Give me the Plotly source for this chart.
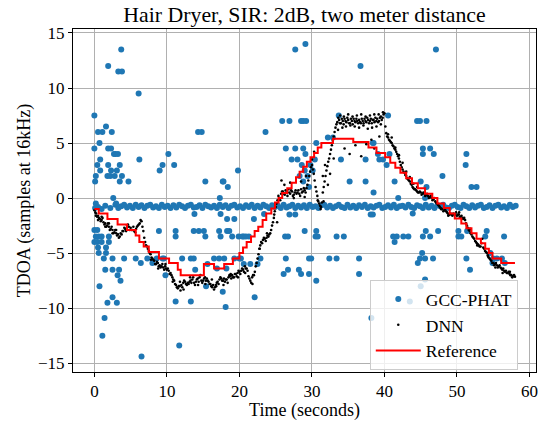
import plotly.graph_objects as go

# ---------------- data ----------------
# Reference TDOA: step changes (time, value)
ref_t = [0.0, 0.6, 1.8, 3.2, 4.5, 5.7, 6.2, 6.8, 7.5, 8.9, 10.3, 11.5, 11.9, 15.1, 16.5, 17.9,
         19.1, 20.0, 20.5, 21.0, 21.6, 22.1, 22.6, 23.2, 23.7, 24.4, 24.9, 25.4, 25.9, 26.6, 27.2,
         27.8, 28.3, 28.8, 29.3, 29.8, 30.3, 30.8, 31.3, 32.9, 35.7, 37.8, 38.9, 40.1, 40.8, 41.5,
         42.2, 43.0, 43.8, 44.6, 45.6, 46.6, 47.3, 48.2, 49.0, 49.7, 50.6, 51.3, 52.0, 52.7, 53.3,
         53.9, 54.4, 54.9, 56.1, 58.0]
ref_v = [-1.0, -1.4, -1.9, -2.4, -2.9, -3.4, -4.0, -4.4, -4.9, -5.5, -5.9, -6.5, -7.0, -6.0, -6.4, -6.0,
         -5.5, -5.0, -4.5, -4.0, -3.5, -3.0, -2.6, -2.0, -1.4, -0.95, -0.4, 0.0, 0.45, 0.9, 1.4,
         1.9, 2.4, 2.85, 3.3, 3.7, 4.1, 4.6, 5.0, 5.4, 5.1, 4.6, 4.1, 3.7, 3.2, 2.75,
         2.3, 1.8, 1.35, 0.9, 0.4, 0.0, -0.5, -0.9, -1.4, -1.85, -2.3, -2.75, -3.2, -3.7, -4.1,
         -4.6, -5.0, -5.5, -5.9, -5.9]

# DNN estimate, one value every 0.25 s (frame hop), rows = one second each
dnn_hop = 0.25
dnn_rows = [
    [-1.1, -1.4, -1.6, -1.9], [-2.0, -2.2, -2.3, -2.5], [-2.6, -2.8, -2.9, -3.1], [-3.2, -3.3, -3.5, -3.3],
    [-3.0, -2.8, -2.5, -2.6], [-2.7, -2.9, -3.0, -2.8], [-2.5, -2.3, -2.1, -3.0], [-4.0, -4.4, -4.8, -5.1],
    [-5.5, -5.7, -6.0, -5.9], [-6.1, -6.2, -6.3, -6.2], [-6.5, -6.6, -6.8, -7.2], [-7.5, -7.9, -8.2, -8.0],
    [-7.9, -7.7, -7.6, -7.9], [-7.8, -7.5, -7.4, -7.7], [-7.6, -7.3, -7.2, -7.5], [-7.5, -7.2, -7.3, -7.6],
    [-7.8, -8.1, -8.3, -7.9], [-7.6, -7.4, -7.3, -7.5], [-7.6, -7.4, -7.2, -7.1], [-7.0, -7.2, -6.9, -6.8],
    [-6.7, -6.6, -6.5, -6.2], [-6.4, -7.1, -7.5, -7.2], [-7.0, -6.2, -5.5, -4.6], [-4.0, -3.8, -3.7, -3.6],
    [-3.5, -3.2, -2.5, -1.8], [-0.8, -0.2, 0.0, 0.4], [0.6, 0.3, 0.5, 0.8], [0.4, 0.6, 0.3, 0.7],
    [0.5, 0.4, 0.8, 0.6], [0.7, 0.9, 1.6, 2.4], [3.0, 2.2, 1.0, 0.2], [-0.5, -0.8, 0.5, 1.5],
    [2.5, 3.3, 4.0, 4.8], [5.6, 6.4, 6.9, 7.1], [6.8, 7.0, 7.2, 6.9], [7.1, 6.8, 7.0, 7.2],
    [6.9, 7.0, 7.1, 6.8], [7.0, 7.2, 6.9, 7.1], [7.0, 6.8, 7.1, 7.3], [7.2, 7.0, 7.4, 7.3],
    [7.7, 5.9, 5.5, 5.2], [5.0, 4.7, 4.4, 4.0], [3.6, 3.0, 2.6, 2.3], [2.0, 1.7, 1.5, 1.2],
    [0.9, 0.8, 0.6, 0.5], [0.5, 0.4, 0.4, 0.3], [0.2, 0.1, 0.0, -0.1], [-0.3, -0.5, -0.7, -0.9],
    [-1.0, -1.1, -1.2, -1.4], [-1.5, -1.5, -1.4, -1.5], [-1.6, -1.5, -1.7, -1.8], [-1.8, -2.3, -2.7, -3.0],
    [-3.3, -3.6, -3.9, -4.1], [-4.3, -4.4, -3.7, -4.6], [-4.9, -5.2, -5.5, -5.7], [-5.9, -6.0, -6.1, -6.2],
    [-6.3, -6.5, -6.6, -6.6], [-6.8, -6.9, -7.0, -7.1], [-7.15],
]
# second set of DNN frames, half a hop later (t + 0.125 s)
dnn_rows_b = [
    [-1.3, -1.7, -1.8, -2.1], [-1.8, -2.4, -2.6, -2.3], [-2.9, -2.6, -3.2, -2.9], [-3.4, -3.6, -3.2, -3.0],
    [-2.7, -3.0, -2.4, -2.9], [-2.9, -2.6, -3.1, -2.6], [-2.4, -2.0, -2.6, -3.6], [-4.3, -4.6, -5.0, -5.4],
    [-5.6, -6.0, -5.8, -6.2], [-6.3, -6.0, -6.5, -6.4], [-6.4, -6.9, -7.0, -7.4], [-7.8, -8.1, -8.0, -8.4],
    [-8.1, -7.5, -7.8, -7.7], [-7.6, -7.7, -7.2, -7.9], [-7.4, -7.6, -7.0, -7.7], [-7.3, -7.5, -7.5, -7.8],
    [-8.0, -7.9, -8.1, -7.7], [-7.8, -7.2, -7.5, -7.3], [-7.4, -7.7, -7.0, -7.3], [-7.2, -6.9, -7.1, -6.6],
    [-6.9, -6.4, -6.7, -6.4], [-6.6, -7.3, -7.7, -7.0], [-6.7, -5.9, -5.1, -4.3], [-4.1, -3.6, -3.9, -3.4],
    [-3.3, -2.9, -2.2, -1.2], [-0.5, 0.2, -0.2, 0.6], [0.4, 0.7, 0.2, 0.5], [0.7, 0.2, 0.5, 0.4],
    [0.7, 0.2, 0.5, 0.9], [0.5, 1.2, 2.0, 2.8], [2.6, 1.6, 0.6, -0.3], [-0.7, -0.4, 1.0, 2.0],
    [2.9, 3.6, 4.4, 5.2], [6.0, 6.7, 7.3, 6.8], [7.2, 6.7, 7.0, 7.3], [6.8, 7.2, 6.7, 7.0],
    [7.2, 6.8, 6.9, 7.2], [6.8, 7.0, 7.3, 6.8], [7.2, 7.1, 6.9, 7.0], [6.9, 7.3, 7.1, 7.6],
    [6.5, 5.6, 5.3, 5.1], [4.8, 4.5, 4.2, 3.8], [3.3, 2.8, 2.4, 2.1], [1.8, 1.6, 1.3, 1.0],
    [0.8, 0.7, 0.5, 0.6], [0.3, 0.5, 0.2, 0.4], [0.0, 0.2, -0.2, 0.0], [-0.4, -0.6, -0.8, -1.0],
    [-1.2, -1.0, -1.3, -1.5], [-1.4, -1.6, -1.5, -1.3], [-1.5, -1.7, -1.6, -1.9], [-2.0, -2.5, -2.9, -3.2],
    [-3.5, -3.7, -4.0, -4.2], [-4.4, -4.1, -4.5, -4.8], [-5.0, -5.4, -5.6, -5.9], [-6.1, -5.9, -6.3, -6.1],
    [-6.4, -6.4, -6.7, -6.8], [-6.7, -7.0, -7.2, -7.0],
]
# extra scattered DNN frames
dnn_extra_t = [33.6, 33.9, 34.2, 34.4, 34.7, 35.0, 35.3, 35.6, 35.9, 36.2, 36.5, 36.8, 37.1, 37.4, 37.7,
               38.0, 38.3, 38.6, 38.9, 39.2, 39.5, 39.8,
               28.5, 29.2, 30.0, 30.3, 31.5, 31.8, 32.2, 32.5, 33.0, 34.5, 35.2, 36.0, 36.8, 37.5, 38.2,
               38.6, 39.3, 27.0, 26.2, 25.8, 27.5, 29.0, 30.8, 31.2, 31.6, 24.8, 25.2,
               40.5, 41.0, 41.5, 42.0, 42.5, 43.0, 43.5, 44.0, 44.5,
               0.2, 0.5, 1.0, 1.5, 2.0, 2.5, 3.0,
               7.8, 8.8, 9.8, 10.8, 11.8, 12.3, 13.2, 14.3, 15.3, 16.2, 16.8, 17.8, 18.8, 19.8, 20.8,
               21.8, 22.8, 23.8, 47.8, 48.8, 50.3, 51.8, 52.8, 54.3, 55.3, 56.3, 57.3]
dnn_extra_v = [6.2, 7.5, 6.4, 7.4, 6.5, 7.6, 6.6, 7.4, 6.5, 7.5, 6.4, 7.6, 6.6, 7.4, 6.3,
               7.5, 6.4, 7.6, 6.5, 7.6, 6.7, 7.8,
               1.5, 2.0, 3.5, 4.2, 2.0, 3.0, 1.2, 2.2, 3.6, 4.5, 4.0, 4.8, 3.8, 4.9, 5.3,
               4.5, 5.6, 1.4, 1.2, 1.6, 0.0, 0.1, -0.2, -1.0, -0.3, -1.5, -2.2,
               5.8, 5.5, 4.6, 3.9, 3.2, 2.4, 1.9, 1.3, 1.0,
               -1.6, -2.0, -1.7, -2.6, -2.3, -3.2, -2.9,
               -5.6, -6.4, -6.0, -7.6, -7.6, -8.3, -7.2, -7.9, -7.8, -7.4, -8.0, -7.9, -6.9, -7.2, -6.8,
               -7.8, -4.6, -3.2, -1.0, -1.6, -1.3, -2.8, -4.3, -5.3, -6.3, -6.8, -6.7]

# GCC-PHAT: dominant band of frames
gcc_band_t = [2.9, 3.3, 3.7, 4.1, 4.5, 4.9, 5.3, 5.7, 6.1, 6.5, 6.9, 7.3, 7.7, 8.1, 8.5, 8.9, 9.3, 9.7,
              10.1, 10.5, 10.9, 11.3, 11.7, 12.1, 12.5, 12.9, 13.3, 13.7, 14.1, 14.5, 14.9, 15.3, 15.7,
              16.1, 16.5, 16.9, 17.3, 17.7, 18.1, 18.5, 18.9, 19.3, 19.7, 20.1, 20.5, 20.9, 21.3, 21.7,
              22.1, 22.5, 22.9, 23.3, 23.7, 24.1, 24.5, 24.9, 25.3, 25.7, 26.1, 26.5, 26.9, 27.3, 27.7,
              28.1, 28.5, 28.9, 29.3, 29.7, 30.1, 30.5, 30.9, 31.3, 31.7, 32.1, 32.5, 32.9, 33.3, 33.7,
              34.1, 34.5, 34.9, 35.3, 35.7, 36.1, 36.5, 36.9, 37.3, 37.7, 38.1, 38.5, 38.9, 39.3, 39.7,
              40.1, 40.5, 40.9, 41.3, 41.7, 42.1, 42.5, 42.9, 43.3, 43.7, 44.1, 44.5, 44.9, 45.3, 45.7,
              46.1, 46.5, 46.9, 47.3, 47.7, 48.1, 48.5, 48.9, 49.3, 49.7, 50.1, 50.5, 50.9, 51.3, 51.7,
              52.1, 52.5, 52.9, 53.3, 53.7, 54.1, 54.5, 54.9, 55.3, 55.7, 56.1, 56.5, 56.9, 57.3, 57.7,
              58.1]
gcc_band_v = [-0.6, -0.9, -0.75, -0.6, -0.85, -0.7, -0.9, -0.6, -0.8, -0.65,
              -0.9, -0.7, -0.6, -0.85, -0.75, -0.9, -0.6, -0.8, -0.7, -0.9,
              -0.65, -0.85, -0.6, -0.75, -0.9, -0.7, -0.6, -0.85, -0.8, -0.65,
              -0.9, -0.6, -0.75, -0.85, -0.7, -0.9, -0.6, -0.8, -0.65, -0.9,
              -0.7, -0.6, -0.85, -0.75, -0.9, -0.65, -0.8, -0.6, -0.9, -0.7,
              -0.85, -0.6, -0.75, -0.9, -0.65, -0.8, -0.7, -0.9, -0.6, -0.85,
              -0.75, -0.6, -0.9, -0.7, -0.85, -0.65, -0.9, -0.6, -0.8, -0.75,
              -0.9, -0.65, -0.6, -0.85, -0.7, -0.9, -0.75, -0.6, -0.8, -0.9,
              -0.6, -0.85, -0.7, -0.9, -0.65, -0.8, -0.6, -0.9, -0.75, -0.85,
              -0.7, -0.6, -0.9, -0.8, -0.65, -0.85, -0.6, -0.9, -0.75, -0.7,
              -0.85, -0.6, -0.8, -0.9, -0.65, -0.75, -0.9, -0.6, -0.85, -0.7,
              -0.9, -0.65, -0.75, -0.6, -0.85, -0.9, -0.7, -0.6, -0.8, -0.9,
              -0.6, -0.75, -0.9, -0.65, -0.85, -0.7, -0.6, -0.9, -0.8, -0.65,
              -0.9, -0.7, -0.6, -0.85, -0.75, -0.9, -0.6, -0.8, -0.7]

# GCC-PHAT: outlier frames
gcc_out_t = [3.7, 1.9, 3.3, 3.8, 6.1, 0.0, 0.5, 1.1, 1.6, 2.4, 0.7, 0.0, 1.9, 2.3, 2.7, 2.9, 3.25, 0.8,
             0.4, 1.9, 3.5, 0.8, 2.3, 3.1, 0.2, 1.8, 2.2, 2.8, 3.8, 0.1, 3.5, 4.7, 2.6, 0.2, 3.0, 6.2,
             9.0, 9.4, 10.2, 11.0, 14.3, 14.8, 15.3, 17.3, 17.7, 18.4,
             27.7, 29.1, 36.7, 25.9, 26.9, 28.5, 28.8, 29.2, 23.6, 33.7, 30.6, 26.4, 27.7, 28.8, 27.2,
             29.1, 32.2, 32.9, 38.4, 34.0, 37.4, 39.3, 35.2, 37.4, 38.5, 19.8, 17.8,
             28.0, 28.6, 29.0, 29.4, 28.3, 29.8, 30.1, 28.8, 29.6, 30.4,
             44.5, 40.5, 44.9, 45.8, 38.5, 45.3, 46.3, 45.3, 46.8, 51.3, 51.2, 39.1, 39.8, 40.3, 40.7,
             48.0, 52.0, 52.7, 41.4, 41.9, 45.0, 45.8, 45.6, 47.1,
             0.0, 0.4, 0.2, 0.6, 1.0, 2.0, 0.0, 0.4, 1.0, 2.0, 0.6, 1.6, 1.3, 2.5, 4.1, 1.5, 2.5, 3.4,
             3.2, 3.6, 0.7, 2.5, 1.8, 3.1, 1.4, 1.1, 6.5, 0.5, 1.6, 0.1, 0.5, 1.0, 1.5, 2.2,
             5.7, 6.4, 7.3, 8.0, 9.4, 8.6, 9.6, 8.9, 11.2, 11.2, 13.7, 14.4, 15.1, 15.3, 17.2, 17.4,
             18.3, 19.0, 19.9, 20.6, 21.3, 20.4, 20.9, 18.6, 13.8, 17.4, 18.3, 19.3, 22.0, 23.4, 12.1,
             13.3, 13.7, 15.6, 16.5, 19.3, 20.2, 20.6, 21.5, 22.5, 22.9, 17.2, 17.9, 20.0, 13.9, 16.9,
             18.2, 9.8, 15.4, 11.2, 13.3, 11.7, 18.1, 17.7, 22.1,
             26.9, 27.7, 38.1, 38.4, 26.3, 26.7, 29.0, 30.6, 30.5, 30.8, 33.4, 34.4, 26.4, 29.6, 29.9,
             32.4, 33.4, 36.5, 26.1, 26.7, 28.2, 28.5, 29.6, 30.6, 36.5, 38.2,
             43.9, 41.2, 41.7, 42.6, 43.3, 41.4, 45.7, 45.3, 46.3, 47.4, 45.2, 44.9, 45.6, 46.7, 44.6,
             45.6, 45.0, 43.5, 50.2, 50.2, 50.6, 51.4, 54.1, 53.9, 56.5, 51.3, 51.8, 54.6, 55.0, 55.5,
             56.2, 56.6, 54.9]
gcc_out_v = [13.5, 12.0, 11.5, 11.5, 9.5, 7.5, 6.0, 6.0, 6.5, 6.0, 5.0, 4.5, 4.5, 4.5, 4.0, 4.0, 4.0, 3.5,
             3.0, 3.0, 3.0, 2.5, 2.5, 2.5, 2.0, 2.0, 2.0, 2.0, 2.0, 1.5, 1.5, 1.5, 0.0, -0.5, -0.5, 3.5,
             2.5, 3.0, 4.0, 3.0, 6.0, 6.0, 1.5, 0.0, 1.5, 1.0,
             13.5, 14.0, 12.0, 7.0, 7.0, 7.0, 7.0, 7.0, 6.0, 7.5, 5.0, 4.5, 4.5, 4.5, 3.5,
             4.0, 5.5, 5.5, 5.0, 3.5, 3.5, 3.5, 1.5, 1.5, 0.5, 2.5, 1.5,
             3.5, 3.0, 2.5, 2.0, 2.0, 3.0, 2.5, 1.5, 1.0, 3.5,
             7.0, 7.5, 7.0, 7.0, 5.0, 4.5, 4.5, 4.0, 4.0, 4.0, 3.0, 4.0, 3.5, 3.0, 4.0,
             2.0, 1.0, 1.0, 1.5, 0.0, 1.5, 1.0, 0.0, 13.5,
             -2.9, -2.9, -3.5, -3.5, -3.5, -3.5, -4.0, -4.0, -4.0, -4.0, -5.0, -5.0, -5.5, -5.5, -5.5,
             -6.5, -6.5, -6.5, -7.0, -7.5, -8.0, -9.0, -9.5, -9.5, -10.9, -12.5, -14.4, -4.5, -4.5,
             -0.9, -0.8, -1.0, -0.7, -0.9,
             -5.5, -5.9, -5.5, -5.9, -5.5, -5.5, -5.5, -3.0, -3.0, -3.5, -3.0, -3.0, -3.0, -3.5, -3.0, -3.5,
             -3.0, -3.5, -3.5, -3.5, -3.5, -3.5, -3.5, -3.0, -1.45, -1.45, -1.9, -1.9, -1.9, -1.45, -5.5,
             -5.5, -5.5, -6.0, -5.5, -5.5, -5.5, -6.0, -6.0, -6.0, -5.5, -5.5, -5.5, -5.5, -6.5, -6.4,
             -6.4, -7.0, -8.0, -9.4, -9.4, -13.4, -9.9, -8.5, -9.0,
             -1.5, -1.5, -1.5, -1.5, -3.5, -3.5, -3.0, -3.0, -3.5, -3.5, -3.5, -3.5, -5.5, -5.5, -5.5,
             -5.5, -5.5, -5.5, -6.9, -6.5, -6.5, -6.9, -6.9, -7.5, -6.9, -10.9,
             -1.4, -3.5, -3.5, -3.5, -3.5, -4.0, -3.0, -3.5, -3.5, -3.0, -5.0, -5.5, -5.5, -5.5, -5.9,
             -7.4, -8.0, -9.4, -3.0, -3.5, -3.5, -3.0, -3.0, -3.5, -3.5, -5.5, -6.5, -5.0, -5.5, -5.5,
             -5.5, -5.9, -5.9]

# ---------------- assemble series ----------------
dnn_t, dnn_v = [], []
for offset, rows in ((0.0, dnn_rows), (dnn_hop / 2, dnn_rows_b)):
    for i, row in enumerate(rows):
        for j, v in enumerate(row):
            dnn_t.append(round(i + j * dnn_hop + offset, 3))
            dnn_v.append(v)
dnn_t += dnn_extra_t
dnn_v += dnn_extra_v

n_band = min(len(gcc_band_t), len(gcc_band_v))
n_out = min(len(gcc_out_t), len(gcc_out_v))
gcc_t = gcc_band_t[:n_band] + gcc_out_t[:n_out]
gcc_v = gcc_band_v[:n_band] + gcc_out_v[:n_out]

FONT = "Liberation Serif"

fig = go.Figure()
fig.add_trace(go.Scatter(x=gcc_t, y=gcc_v, mode="markers", name="GCC-PHAT",
                         marker=dict(color="#1f77b4", size=6, line=dict(width=0))))
fig.add_trace(go.Scatter(x=dnn_t, y=dnn_v, mode="markers", name="DNN",
                         marker=dict(color="black", size=2.6, line=dict(width=0))))
fig.add_trace(go.Scatter(x=ref_t, y=ref_v, mode="lines", name="Reference",
                         line=dict(color="red", width=2, shape="hv")))

axis_common = dict(showgrid=True, gridcolor="#b0b0b0", gridwidth=1, zeroline=False,
                   showline=True, linecolor="black", linewidth=1, mirror=True,
                   ticks="outside", ticklen=4, tickcolor="black", automargin=False,
                   tickfont=dict(family=FONT, size=17, color="black"))

fig.update_layout(
    width=543, height=421,
    margin=dict(l=73, r=7, t=29, b=49),
    paper_bgcolor="white", plot_bgcolor="white",
    font=dict(family=FONT, color="black"),
    title=dict(text="Hair Dryer, SIR: 2dB, two meter distance", x=0.5, xref="paper",
               y=0.966, yref="container", yanchor="middle",
               font=dict(family=FONT, size=21.8, color="black")),
    xaxis=dict(range=[-2.95, 60.9], dtick=10, tick0=0,
               title=dict(text="Time (seconds)", font=dict(family=FONT, size=18), standoff=6),
               **axis_common),
    yaxis=dict(range=[-15.8, 15.36], dtick=5, tick0=0,
               title=dict(text="TDOA (samples at 16kHz)", font=dict(family=FONT, size=18), standoff=2),
               **axis_common),
    legend=dict(x=0.641, y=0.268, xanchor="left", yanchor="top", itemwidth=45,
                bgcolor="rgba(255,255,255,0.8)", bordercolor="#cccccc", borderwidth=1,
                font=dict(family=FONT, size=17.5, color="black"), tracegroupgap=0),
    showlegend=True,
)

fig.write_html("out.html", config={"displayModeBar": False},
               post_script="document.body.style.margin='0';document.body.style.overflow='hidden';")
